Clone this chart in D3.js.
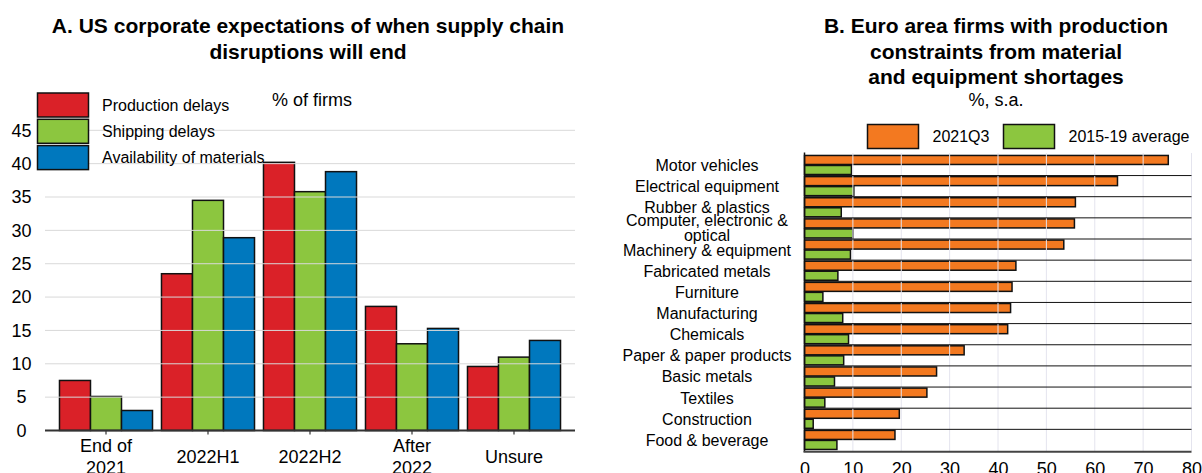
<!DOCTYPE html>
<html>
<head>
<meta charset="utf-8">
<script src="https://cdn.jsdelivr.net/npm/d3@7"></script>
<style>
  body { margin: 0; background: #fff; }
  text { font-family: "Liberation Sans", Arial, sans-serif; fill: #000; }
</style>
</head>
<body>
<svg width="1202" height="473"></svg>
<script>

// Panel A data (% of firms)
var periods = ["End of 2021", "2022H1", "2022H2", "After 2022", "Unsure"];
var periodLines = [["End of", "2021"], ["2022H1"], ["2022H2"], ["After", "2022"], ["Unsure"]];
var seriesA = ["Production delays", "Shipping delays", "Availability of materials"];
var production = [7.5, 23.5, 40.2, 18.6, 9.6];
var shipping = [5.1, 34.5, 35.8, 13.0, 11.0];
var materials = [3.0, 28.9, 38.8, 15.3, 13.5];
var ticksA = [0, 5, 10, 15, 20, 25, 30, 35, 40, 45];

// Panel B data (%, s.a.)
var sectors = ["Motor vehicles", "Electrical equipment", "Rubber & plastics",
  "Computer, electronic & optical", "Machinery & equipment", "Fabricated metals",
  "Furniture", "Manufacturing", "Chemicals", "Paper & paper products",
  "Basic metals", "Textiles", "Construction", "Food & beverage"];
var sectorLines = [["Motor vehicles"], ["Electrical equipment"], ["Rubber & plastics"],
  ["Computer, electronic &", "optical"], ["Machinery & equipment"], ["Fabricated metals"],
  ["Furniture"], ["Manufacturing"], ["Chemicals"], ["Paper & paper products"],
  ["Basic metals"], ["Textiles"], ["Construction"], ["Food & beverage"]];
var seriesB = ["2021Q3", "2015-19 average"];
var q2021 = [75.2, 64.7, 56.0, 55.8, 53.6, 43.7, 42.9, 42.6, 42.0, 33.0, 27.3, 25.3, 19.6, 18.7];
var avg1519 = [9.7, 10.2, 7.6, 10.0, 9.5, 6.9, 3.8, 7.9, 9.1, 8.1, 6.2, 4.2, 1.8, 6.7];
var ticksB = [0, 10, 20, 30, 40, 50, 60, 70, 80];

var svg = d3.select("svg");

// ---------------- Panel A ----------------
var colA = d3.scaleOrdinal().domain(seriesA).range(["#da2128", "#8cc63f", "#0078be"]);
var xA = d3.scaleBand().domain(periods).range([55, 565]).paddingInner(0.088).paddingOuter(0.044);
var xSubA = d3.scaleBand().domain(seriesA).range([0, xA.bandwidth()]);
var yA = d3.scaleLinear().domain([0, 45]).range([430.5, 130.3]);
var valsA = [production, shipping, materials];

var gA = svg.append("g");

gA.append("text")
  .attr("x", 308).attr("y", 33)
  .attr("text-anchor", "middle")
  .style("font-size", "21px").style("font-weight", "bold")
  .text("A. US corporate expectations of when supply chain");
gA.append("text")
  .attr("x", 308).attr("y", 59)
  .attr("text-anchor", "middle")
  .style("font-size", "21px").style("font-weight", "bold")
  .text("disruptions will end");

var barsA = [];
periods.forEach(function (p, i) {
  seriesA.forEach(function (s, j) {
    barsA.push({ period: p, series: s, value: valsA[j][i] });
  });
});

gA.selectAll("rect.bar")
  .data(barsA)
  .enter()
  .append("rect")
    .attr("class", "bar")
    .attr("x", function (d) { return xA(d.period) + xSubA(d.series); })
    .attr("width", xSubA.bandwidth())
    .attr("y", function (d) { return yA(d.value); })
    .attr("height", function (d) { return yA(0) - yA(d.value); })
    .attr("fill", function (d) { return colA(d.series); })
    .attr("stroke", "#111")
    .attr("stroke-width", 1.5);

// gridlines go over the bars
gA.selectAll("line.grid")
  .data(ticksA.slice(1))
  .enter()
  .append("line")
    .attr("x1", 45).attr("x2", 575)
    .attr("y1", function (d) { return yA(d); })
    .attr("y2", function (d) { return yA(d); })
    .attr("stroke", "#d9d9d9")
    .attr("stroke-width", 1);

// y labels
gA.selectAll("text.ylab")
  .data(ticksA)
  .enter()
  .append("text")
    .attr("x", 21.5)
    .attr("y", function (d) { return yA(d); })
    .attr("dy", "0.35em")
    .attr("text-anchor", "middle")
    .style("font-size", "18px")
    .text(function (d) { return d; });

// x axis
var axA = gA.append("g")
  .attr("transform", "translate(0," + yA(0) + ")")
  .call(d3.axisBottom(xA).tickSize(4).tickFormat(""));
axA.select(".domain").remove();
axA.selectAll(".tick line").attr("stroke", "#333").attr("stroke-width", 1.2);
gA.append("line")
  .attr("x1", 45).attr("x2", 575)
  .attr("y1", yA(0)).attr("y2", yA(0))
  .attr("stroke", "#333").attr("stroke-width", 2);

gA.selectAll("text.xlab")
  .data(periods)
  .enter()
  .append("text")
    .attr("class", "xlab")
    .attr("text-anchor", "middle")
    .style("font-size", "18px")
    .each(function (d, i) {
      var lines = periodLines[i];
      var cx = xA(d) + xA.bandwidth() / 2;
      var y0 = lines.length > 1 ? 452 : 462.5;
      var t = d3.select(this);
      lines.forEach(function (l, k) {
        t.append("tspan").attr("x", cx).attr("y", y0 + k * 21.5).text(l);
      });
    });

// legend
var legA = gA.selectAll("g.leg")
  .data(seriesA)
  .enter()
  .append("g")
    .attr("transform", function (d, i) { return "translate(37.5," + (93 + i * 26.3) + ")"; });
legA.append("rect")
  .attr("width", 51).attr("height", 24)
  .attr("fill", function (d) { return colA(d); })
  .attr("stroke", "#111").attr("stroke-width", 1.5);
legA.append("text")
  .attr("x", 64.5).attr("y", 12).attr("dy", "0.35em")
  .style("font-size", "16px")
  .text(function (d) { return d; });

gA.append("text")
  .attr("x", 312).attr("y", 106)
  .attr("text-anchor", "middle")
  .style("font-size", "18px")
  .text("% of firms");

// ---------------- Panel B ----------------
var colB = d3.scaleOrdinal().domain(seriesB).range(["#f37920", "#8cc63f"]);
var xB = d3.scaleLinear().domain([0, 80]).range([804.5, 1191.5]);
var yB = d3.scaleBand().domain(sectors).range([154.4, 450.5]).paddingInner(0.1).paddingOuter(0.05);
var ySubB = d3.scaleBand().domain(seriesB).range([0, yB.bandwidth()]).paddingInner(0.1);
var valsB = [q2021, avg1519];

var gB = svg.append("g");

["B. Euro area firms with production", "constraints from material", "and equipment shortages"]
  .forEach(function (l, i) {
    gB.append("text")
      .attr("x", 996).attr("y", 33 + i * 25.5)
      .attr("text-anchor", "middle")
      .style("font-size", "21px").style("font-weight", "bold")
      .text(l);
  });
gB.append("text")
  .attr("x", 996).attr("y", 106)
  .attr("text-anchor", "middle")
  .style("font-size", "18px")
  .text("%, s.a.");

// legend
var legPosB = [867.5, 1003.5];
var legB = gB.selectAll("g.leg")
  .data(seriesB)
  .enter()
  .append("g")
    .attr("transform", function (d, i) { return "translate(" + legPosB[i] + ",124.5)"; });
legB.append("rect")
  .attr("width", 51).attr("height", 24)
  .attr("fill", function (d) { return colB(d); })
  .attr("stroke", "#111").attr("stroke-width", 1.5);
legB.append("text")
  .attr("x", 65).attr("y", 12).attr("dy", "0.35em")
  .style("font-size", "16px")
  .text(function (d) { return d; });

var barsB = [];
sectors.forEach(function (s, i) {
  seriesB.forEach(function (k, j) {
    barsB.push({ sector: s, series: k, value: valsB[j][i] });
  });
});

gB.selectAll("rect.bar")
  .data(barsB)
  .enter()
  .append("rect")
    .attr("class", "bar")
    .attr("x", xB(0))
    .attr("y", function (d) { return yB(d.sector) + ySubB(d.series); })
    .attr("height", ySubB.bandwidth())
    .attr("width", function (d) { return xB(d.value) - xB(0); })
    .attr("fill", function (d) { return colB(d.series); })
    .attr("stroke", "#111")
    .attr("stroke-width", 1.5);

// vertical gridlines over the bars
gB.selectAll("line.grid")
  .data(ticksB.slice(1))
  .enter()
  .append("line")
    .attr("y1", 153).attr("y2", 451)
    .attr("x1", function (d) { return xB(d); })
    .attr("x2", function (d) { return xB(d); })
    .attr("stroke", "#e4e4ee")
    .attr("stroke-width", 1);

// row separators
var gapB = yB.step() * yB.paddingInner() / 2;
gB.selectAll("line.sep")
  .data(sectors.slice(1))
  .enter()
  .append("line")
    .attr("x1", xB(0)).attr("x2", xB(80))
    .attr("y1", function (d) { return yB(d) - gapB; })
    .attr("y2", function (d) { return yB(d) - gapB; })
    .attr("stroke", "#111")
    .attr("stroke-width", 1);

// axes lines
gB.append("line")
  .attr("x1", xB(0)).attr("x2", xB(0))
  .attr("y1", 152.5).attr("y2", 452)
  .attr("stroke", "#111").attr("stroke-width", 1.5);
gB.append("line")
  .attr("x1", xB(0) - 1).attr("x2", xB(80))
  .attr("y1", 451.8).attr("y2", 451.8)
  .attr("stroke", "#444").attr("stroke-width", 2);

var axB = gB.append("g")
  .attr("transform", "translate(0,452)")
  .call(d3.axisBottom(xB).tickValues(ticksB).tickSize(0).tickPadding(0));
axB.select(".domain").remove();
axB.selectAll(".tick text")
  .attr("y", 22.5).attr("dy", null)
  .style("font-size", "18px")
  .style("font-family", "\"Liberation Sans\", Arial, sans-serif")
  .attr("fill", "#000");

// category labels
gB.selectAll("text.cat")
  .data(sectors)
  .enter()
  .append("text")
    .attr("class", "cat")
    .attr("text-anchor", "middle")
    .style("font-size", "16px")
    .each(function (d, i) {
      var lines = sectorLines[i];
      var cy = yB(d) + yB.bandwidth() / 2;
      var t = d3.select(this);
      if (lines.length === 1) {
        t.append("tspan").attr("x", 707).attr("y", cy + 6).text(lines[0]);
      } else {
        t.append("tspan").attr("x", 707).attr("y", cy - 2).text(lines[0]);
        t.append("tspan").attr("x", 707).attr("y", cy + 12.5).text(lines[1]);
      }
    });

</script>
</body>
</html>
